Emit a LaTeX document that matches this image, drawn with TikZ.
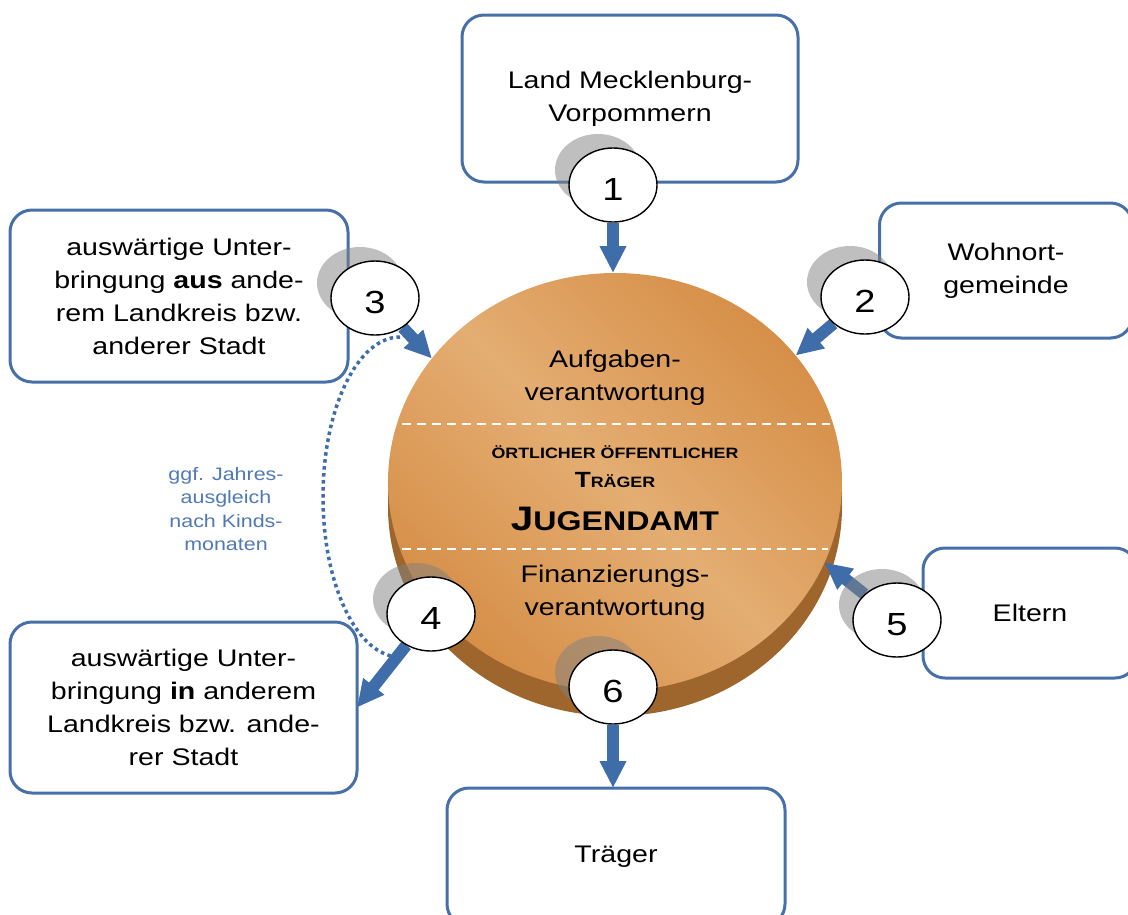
\documentclass[tikz,border=0pt]{standalone}
\usepackage{fontspec}
\setmainfont{Liberation Sans}[FakeStretch=1.19]
\usetikzlibrary{shapes.geometric,arrows.meta}
\definecolor{kastenblau}{RGB}{71,112,168}
\definecolor{pfeilblau}{RGB}{62,109,170}
\definecolor{notizblau}{RGB}{79,121,181}
\definecolor{orhell}{RGB}{228,173,114}
\definecolor{ordunkel}{RGB}{214,143,72}
\definecolor{seite}{RGB}{158,102,44}
\pgfdeclarelayer{hinten}
\pgfdeclarelayer{mitte}
\pgfsetlayers{hinten,mitte,main}
\begin{document}
\begin{tikzpicture}[x=1pt, y=-1pt, line join=round,
    kasten/.style={draw=kastenblau, line width=3pt, rounded corners=22pt, fill=white,
      align=center, inner sep=0pt, outer sep=0pt, font=\fontsize{24}{33}\selectfont},
    nummer/.style={ellipse, draw=black, line width=1.4pt, fill=white, minimum width=88pt,
      minimum height=74pt, inner sep=0pt, text height=31pt, text depth=0pt,
      font=\fontsize{32}{32}\selectfont},
    schatten/.style={ellipse, fill=black!50, fill opacity=0.5, minimum width=86pt,
      minimum height=72pt, inner sep=0pt, xshift=-15pt, yshift=15pt},
    pfeil/.style={draw=pfeilblau, line width=12pt, -{Triangle[width=25pt,length=27pt]}},
    trenn/.style={white, line width=2pt, dash pattern=on 9pt off 6pt},
    mitte24/.style={align=center, font=\fontsize{24}{33}\selectfont}]
  \useasboundingbox (0,0) rectangle (1128,914);
  \begin{pgfonlayer}{hinten}
    % Kaesten
    \node[kasten, minimum width=336pt, minimum height=167pt] (b1) at (630,98.5)
      {Land Mecklenburg-\\Vorpommern};
    \node[kasten, minimum width=253pt, minimum height=135pt] (b2) at (1006,270.5)
      {Wohnort-\\gemeinde};
    \node[kasten, minimum width=338pt, minimum height=172pt] (b3) at (179,296)
      {auswärtige Unter-\\bringung \textbf{aus} ande-\\rem Landkreis bzw.\\anderer Stadt};
    \node[kasten, minimum width=347pt, minimum height=171pt] (b4) at (183.5,707.5)
      {auswärtige Unter-\\bringung \textbf{in} anderem\\Landkreis bzw. ande-\\rer Stadt};
    \node[kasten, minimum width=214pt, minimum height=130pt] (b5) at (1030,613) {Eltern};
    \node[kasten, minimum width=338pt, minimum height=138pt] (b6) at (616,857) {Träger};
    % Jugendamt
    \fill[seite] (615,507) ellipse [x radius=227, y radius=209];
    \fill[seite] (388,482) rectangle (842,507);
    \node[ellipse, minimum width=454pt, minimum height=418pt, inner sep=0pt, outer sep=0pt,
      top color=ordunkel, bottom color=ordunkel, middle color=orhell, shading angle=-45]
      (amt) at (615,482) {};
    \draw[trenn] (402,424) -- (830,424);
    \draw[trenn] (402,549) -- (828,549);
    \node[mitte24] (aufg) at (615,378) {Aufgaben-\\verantwortung};
    \node[anchor=base, font=\bfseries\fontsize{15}{18}\selectfont] (oeff) at (615,458)
      {ÖRTLICHER ÖFFENTLICHER};
    \node[anchor=base, font=\bfseries] (traeg) at (615,487)
      {{\fontsize{22}{22}\selectfont T}{\fontsize{15}{18}\selectfont RÄGER}};
    \node[anchor=base, font=\bfseries] (jug) at (615,530)
      {{\fontsize{34}{34}\selectfont J}{\fontsize{27}{27}\selectfont UGENDAMT}};
    \node[mitte24] (fin) at (615,593) {Finanzierungs-\\verantwortung};
    % Ausgleich
    \coordinate (ausgl) at (400,337);
    \draw[pfeilblau, line width=3.5pt, dash pattern=on 3.5pt off 3.5pt]
      (ausgl) arc[start angle=270, end angle=90, x radius=77, y radius=160];
    \node[align=center, text=notizblau, font=\fontsize{18}{23.3}\selectfont] (notiz)
      at (226,509) {ggf. Jahres-\\ausgleich\\nach Kinds-\\monaten};
  \end{pgfonlayer}
  % Nummern
  \node[nummer] (n1) at (613,185) {1};
  \node[nummer] (n2) at (865,297) {2};
  \node[nummer] (n3) at (375,298) {3};
  \node[nummer] (n4) at (431,614) {4};
  \node[nummer] (n5) at (897,620) {5};
  \node[nummer] (n6) at (613,687) {6};
  \begin{pgfonlayer}{mitte}
    \draw[pfeil] (n1) -- (n1 |- amt.north);
    \draw[pfeil] (n2) -- (amt.35);
    \draw[pfeil] (n3) -- (amt.146);
    \draw[pfeil] (n4) -- (b4.east);
    \draw[pfeil] (n5) -- (amt.-21);
    \draw[pfeil] (n6) -- (n6 |- b6.north);
    \foreach \i in {1,...,6}
      \node[schatten] (s\i) at (n\i) {};
  \end{pgfonlayer}
\end{tikzpicture}
\end{document}
